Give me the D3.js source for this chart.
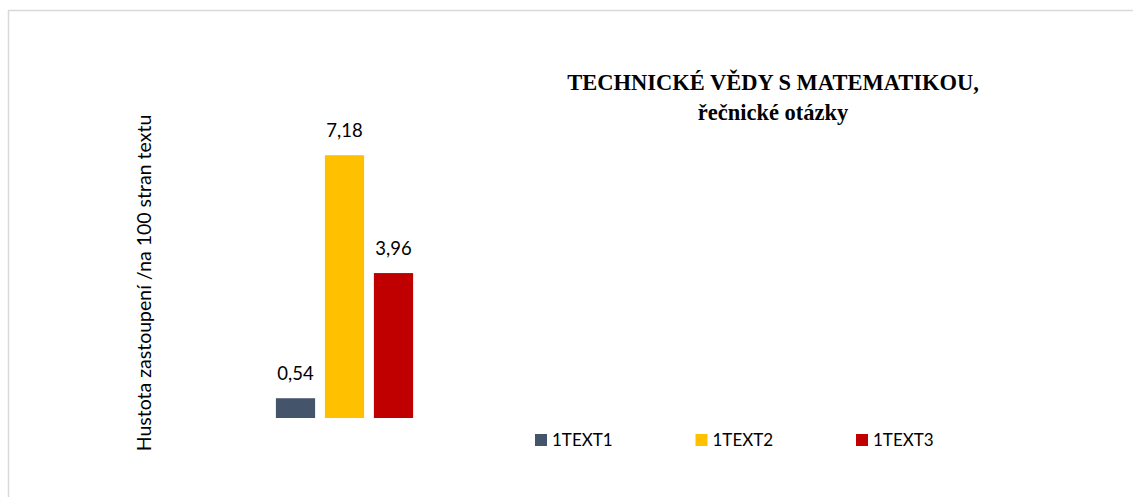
<!DOCTYPE html>
<meta charset="utf-8">
<style>
  body { margin: 0; background: #fff; }
</style>
<script src="https://d3js.org/d3.v7.min.js"></script>
<div id="my_dataviz"></div>
<script>

// Chart data
var series = ["1TEXT1", "1TEXT2", "1TEXT3"];
var values = [0.54, 7.18, 3.96];
var labels = ["0,54", "7,18", "3,96"];
var colors = ["#44546a", "#ffc000", "#c00000"];

var titleLines = ["TECHNICKÉ VĚDY S MATEMATIKOU,", "řečnické otázky"];
var yTitle = "Hustota zastoupení /na 100 stran textu";

var W = 1133, H = 497;
var sans = "Lato, 'Open Sans', sans-serif";

var svg = d3.select("#my_dataviz")
    .append("svg")
    .attr("width", W)
    .attr("height", H);

// outer chart frame (runs off the right and bottom edges)
svg.append("rect")
    .attr("x", 8.5).attr("y", 10.5)
    .attr("width", W).attr("height", H)
    .attr("fill", "#fff")
    .attr("stroke", "#d9d9d9")
    .attr("stroke-width", 1.5);

// Scales
var x = d3.scaleBand()
    .domain(series)
    .range([271, 418])
    .paddingInner(0.2)
    .paddingOuter(0.1);

var y = d3.scaleLinear()
    .domain([0, 8])
    .range([418, 418 - 8 * 36.6]);

// bars
svg.selectAll(".bar")
    .data(series)
    .enter()
    .append("rect")
    .attr("class", "bar")
    .attr("x", function(d) { return x(d); })
    .attr("y", function(d, i) { return y(values[i]); })
    .attr("width", x.bandwidth())
    .attr("height", function(d, i) { return y(0) - y(values[i]); })
    .attr("fill", function(d, i) { return colors[i]; });

// value labels
svg.selectAll(".lbl")
    .data(series)
    .enter()
    .append("text")
    .attr("class", "lbl")
    .attr("x", function(d) { return x(d) + x.bandwidth() / 2; })
    .attr("y", function(d, i) { return y(values[i]) - 18; })
    .attr("text-anchor", "middle")
    .style("font-family", sans)
    .style("font-size", "18.5px")
    .style("fill", "#000")
    .text(function(d, i) { return labels[i]; });

// y axis title
svg.append("text")
    .attr("transform", "translate(151,283) rotate(-90)")
    .attr("text-anchor", "middle")
    .style("font-family", sans)
    .style("font-size", "19.5px")
    .style("fill", "#000")
    .text(yTitle);

// title
svg.selectAll(".title")
    .data(titleLines)
    .enter()
    .append("text")
    .attr("class", "title")
    .attr("x", 773)
    .attr("y", function(d, i) { return 90 + i * 30; })
    .attr("text-anchor", "middle")
    .style("font-family", "'Liberation Serif', 'Times New Roman', serif")
    .style("font-weight", "bold")
    .style("font-size", "22.5px")
    .style("fill", "#000")
    .text(function(d) { return d; });

// legend
var legend = svg.selectAll(".leg")
    .data(series)
    .enter()
    .append("g")
    .attr("class", "leg")
    .attr("transform", function(d, i) { return "translate(" + (535 + i * 160.5) + ",434)"; });

legend.append("rect")
    .attr("width", 12)
    .attr("height", 12)
    .attr("fill", function(d, i) { return colors[i]; });

legend.append("text")
    .attr("x", 17)
    .attr("y", 12)
    .style("font-family", sans)
    .style("font-size", "17px")
    .style("fill", "#000")
    .text(function(d) { return d; });

</script>
